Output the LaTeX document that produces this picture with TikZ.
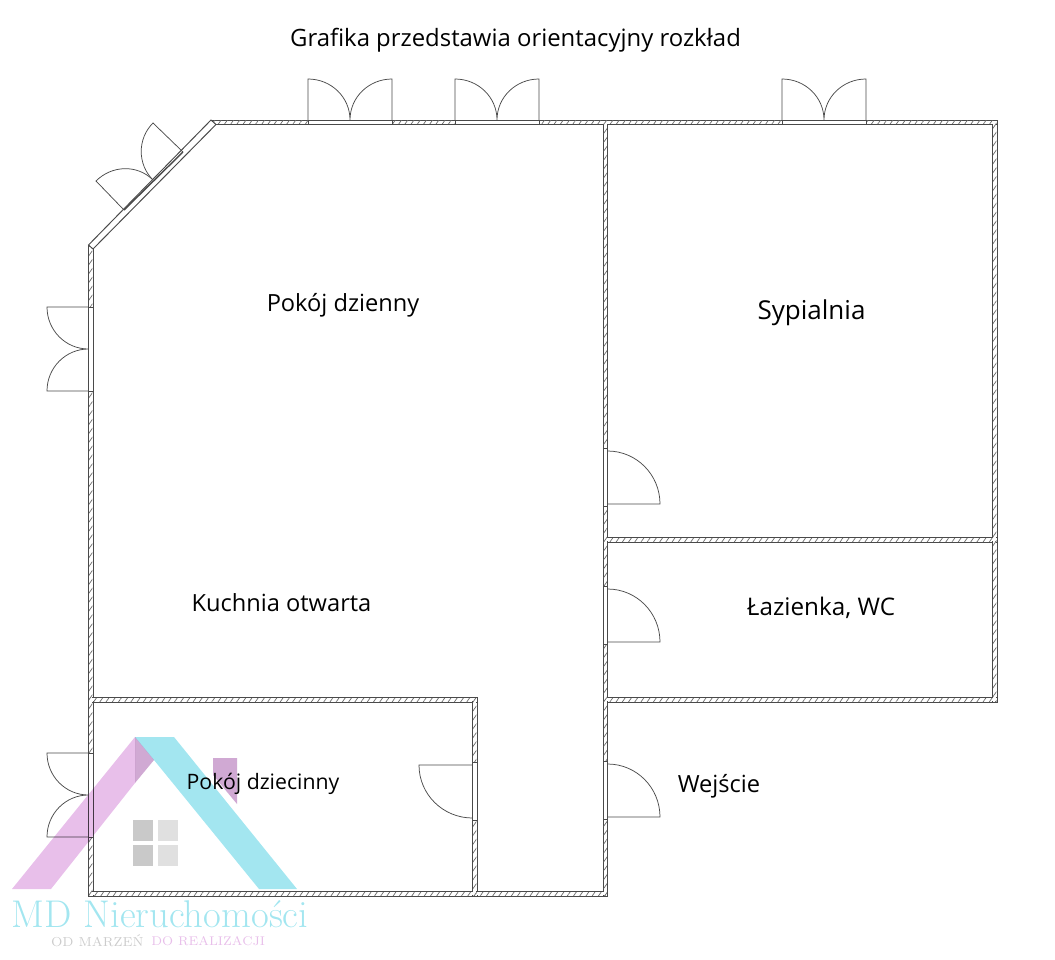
\documentclass[tikz,border=0pt]{standalone}
\usepackage{fontspec}
\setmainfont{Open Sans}
\newfontfamily\logofont{Latin Modern Roman}
\usetikzlibrary{patterns.meta}
\definecolor{walldark}{HTML}{4A4A4A}
\definecolor{hatchgray}{HTML}{6A6A6A}
\definecolor{logopink}{HTML}{E8BFEA}
\definecolor{logoblue}{HTML}{A3E6F0}
\definecolor{logoplum}{HTML}{D0A9D3}
\tikzset{
  wallline/.style={draw=walldark,line width=0.55pt},
  wallfill/.style={fill=white,postaction={pattern={Lines[angle=55,distance=2.9pt,line width=0.4pt]},pattern color=hatchgray}},
  window/.style={draw=walldark,fill=white,line width=0.4pt},
  leaf/.style={draw=walldark,line width=0.42pt},
  room/.style={font=\fontsize{13.45}{16}\selectfont,inner sep=0pt},
}
\begin{document}
\begin{tikzpicture}[x=0.02cm,y=-0.02cm]
  \useasboundingbox (0,0) rectangle (1055,960);
  % walls: outline first, then the hatch over it so that the joints stay open
  \foreach \xa/\ya/\xb/\yb in {211/120/997/124.5,88.5/245/93/896,88.5/891.5/607.5/896,603/120/607.5/896,
      992.5/120/997/702,604/537.5/997/542,604/697.5/997/702,89/697.5/477/702,472.5/697.5/477/896}
    \draw[wallline] (\xa,\ya) rectangle (\xb,\yb);
  \foreach \xa/\ya/\xb/\yb in {211/120/997/124.5,88.5/245/93/896,88.5/891.5/607.5/896,603/120/607.5/896,
      992.5/120/997/702,604/537.5/997/542,604/697.5/997/702,89/697.5/477/702,472.5/697.5/477/896}
    \path[wallfill] (\xa+0.7,\ya+0.7) rectangle (\xb-0.7,\yb-0.7);
  % slanted wall
  \draw[wallline,fill=white] (211,120) -- (216,124.5) -- (93,249) -- (88.5,245) -- cycle;
  \draw[walldark,line width=0.8pt] (183,152) -- (124,210);
  % doors in the top wall
  \foreach \x in {308,455,782} {
    \draw[window] (\x,120) rectangle (\x+84,124.5);
    \draw[leaf] (\x,120) -- (\x,79) to[out=0,in=90] (\x+42,120) to[out=90,in=180] (\x+84,79) -- (\x+84,120);
  }
  % doors in the left wall
  \foreach \y in {307,753} {
    \draw[window] (88.5,\y) rectangle (93,\y+84);
    \draw[leaf] (88.5,\y) -- (47,\y) to[out=270,in=180] (88.5,\y+42) to[out=180,in=90] (47,\y+84) -- (88.5,\y+84);
  }
  % doors in the slanted wall
  \draw[leaf] (183,152) -- (153,123) to[out=225,in=135] (153,180);
  \draw[leaf] (153,180) to[out=135,in=45] (96,181) -- (124,210);
  % doors in the middle wall
  \foreach \y in {448,586,761} {
    \draw[window] (603,\y) rectangle (607.5,\y+58);
    \draw[leaf] (607.5,\y+3) to[out=0,in=90] (660,\y+56) -- (607.5,\y+56);
  }
  % door of the small room
  \draw[window] (472.5,762) rectangle (477,820);
  \draw[leaf] (472.5,765) -- (419,765) to[out=270,in=180] (472.5,818);
  % labels
  \node[room,font=\fontsize{13.6}{16}\selectfont] (title) at (515.5,40) {Grafika przedstawia orientacyjny rozkład};
  \node[room] (dzienny) at (343,305.5) {Pokój dzienny};
  \node[room,font=\fontsize{14.8}{18}\selectfont] (sypialnia) at (811.5,313) {Sypialnia};
  \node[room] (kuchnia) at (281.5,603) {Kuchnia otwarta};
  \node[room,font=\fontsize{13.8}{16}\selectfont] (lazienka) at (821,607.5) {Łazienka, WC};
  \node[room,font=\fontsize{12.1}{16}\selectfont] (dziecinny) at (263,784) {Pokój dziecinny};
  \node[room] (wejscie) at (719,786.5) {Wejście};
  % logo
  \begin{scope}[blend mode=multiply]
    \fill[logopink] (12,889) -- (135,737) -- (135,783) -- (51,889) -- cycle;
    \fill[logoblue] (135,737) -- (174,737) -- (297,889) -- (259,889) -- (154,760) -- cycle;
    \fill[logoplum] (135,737) -- (154,760) -- (135,783) -- cycle;
    \fill[logoplum] (213,758) -- (237,758) -- (237,804) -- (213,775) -- cycle;
    \fill[black!21] (132.5,820) rectangle (153,840.5);
    \fill[black!21] (132.5,845) rectangle (153,865.5);
    \fill[black!12] (157.5,820) rectangle (178,840.5);
    \fill[black!12] (157.5,845) rectangle (178,865.5);
    \node[inner sep=0pt,text=logoblue,font=\logofont\fontsize{22}{24}\selectfont] (logoname) at (160,914.5) {MD Nieruchomości};
    \node[inner sep=0pt,text=black!20,font=\logofont\fontsize{7.4}{9}\selectfont,anchor=east] (logoleft) at (144,941) {OD MARZEŃ};
    \node[inner sep=0pt,text=logopink,font=\logofont\fontsize{7.2}{9}\selectfont,anchor=west] (logoright) at (151,941) {DO REALIZACJI};
  \end{scope}
\end{tikzpicture}
\end{document}
